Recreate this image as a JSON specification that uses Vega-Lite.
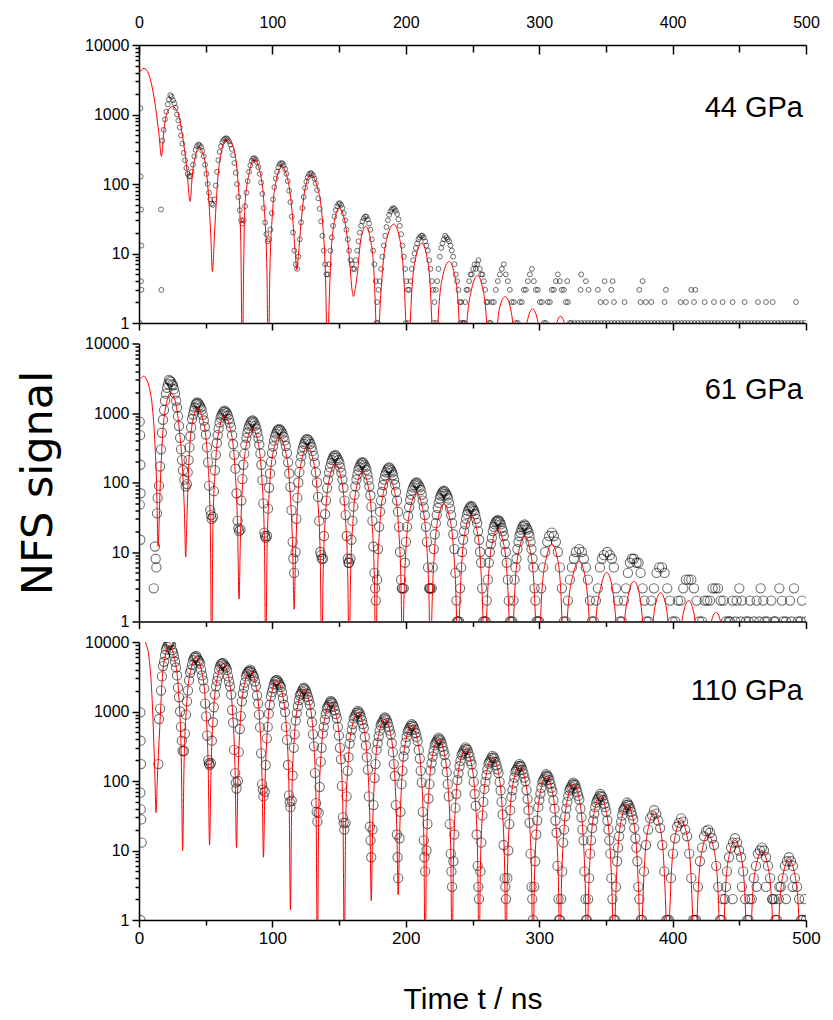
{
"$schema": "https://vega.github.io/schema/vega-lite/v6.json",
"background": "white",
"padding": {"left": 17, "top": 12, "right": 5, "bottom": 2},
"spacing": 20.5,
"bounds": "flush",
"config": {
 "view": {"stroke": null},
 "axis": {"domainColor": "#000", "domainWidth": 1.5, "tickColor": "#000", "tickWidth": 1.5, "labelColor": "#000", "labelFont": "Liberation Sans", "labelFontSize": 16, "grid": false, "labelOverlap": false, "labelFlush": false, "titleColor": "#000", "titleFontWeight": "normal"}
},
"datasets": {
"c1": [{"t":0,"v":3900},{"t":2,"v":4400},{"t":3.8,"v":4600},{"t":5.5,"v":4400},{"t":7.5,"v":3700},{"t":10,"v":2400},{"t":12.5,"v":1230},{"t":15,"v":510},{"t":16.8,"v":250},{"t":18.8,"v":630},{"t":21.3,"v":1100},{"t":25,"v":1300},{"t":28.8,"v":1100},{"t":32.5,"v":510},{"t":35.8,"v":170},{"t":38.3,"v":56},{"t":40,"v":135},{"t":42.5,"v":263},{"t":45,"v":335},{"t":48.3,"v":263},{"t":51.3,"v":108},{"t":53.8,"v":18.6},{"t":55,"v":5.5},{"t":56.8,"v":23},{"t":59.3,"v":135},{"t":61.8,"v":295},{"t":65.5,"v":445},{"t":70,"v":365},{"t":73.8,"v":135},{"t":76.3,"v":15},{"t":77.5,"v":0.2},{"t":78.4,"v":5.6},{"t":79.3,"v":47},{"t":82.8,"v":150},{"t":86.3,"v":230},{"t":90.6,"v":150},{"t":93.8,"v":47},{"t":95.9,"v":5.6},{"t":97,"v":0.2},{"t":98,"v":4.4},{"t":100,"v":37},{"t":103,"v":116},{"t":107,"v":178},{"t":111.5,"v":116},{"t":114.9,"v":37},{"t":117.2,"v":10},{"t":118.3,"v":5.8},{"t":119.4,"v":9},{"t":121.5,"v":28},{"t":124.6,"v":88},{"t":128.8,"v":135},{"t":133.8,"v":88},{"t":137.6,"v":28},{"t":140,"v":3.3},{"t":141.3,"v":0.2},{"t":142.2,"v":1.1},{"t":143.9,"v":9.3},{"t":146.5,"v":29},{"t":150,"v":45},{"t":154.3,"v":29},{"t":157.6,"v":9.3},{"t":159.7,"v":3},{"t":160.8,"v":2.4},{"t":161.7,"v":2.8},{"t":163.6,"v":5},{"t":166.3,"v":16},{"t":170,"v":24.5},{"t":173.5,"v":16},{"t":176.2,"v":5},{"t":177.9,"v":0.6},{"t":178.8,"v":0.1},{"t":179.9,"v":0.65},{"t":182.5,"v":5.5},{"t":186.1,"v":17.3},{"t":191,"v":26.5},{"t":195.1,"v":17.3},{"t":198.2,"v":5.5},{"t":200.3,"v":0.65},{"t":201.3,"v":0.1},{"t":202.4,"v":0.34},{"t":204.5,"v":2.9},{"t":207.7,"v":9.2},{"t":212,"v":14},{"t":215.7,"v":9.2},{"t":218.5,"v":2.9},{"t":220.4,"v":0.34},{"t":221.3,"v":0.1},{"t":222.4,"v":0.19},{"t":224.7,"v":1.6},{"t":228,"v":5},{"t":232.5,"v":7.7},{"t":236.5,"v":5},{"t":239.5,"v":1.6},{"t":241.5,"v":0.19},{"t":242.5,"v":0.1},{"t":243.6,"v":0.12},{"t":245.8,"v":1},{"t":249.4,"v":3.1},{"t":253.8,"v":4.8},{"t":257.7,"v":3.1},{"t":260.6,"v":1},{"t":262.5,"v":0.12},{"t":263.5,"v":0.05},{"t":267.5,"v":0.5},{"t":270,"v":1.55},{"t":274.5,"v":2.4},{"t":278.7,"v":1.55},{"t":281.8,"v":0.5},{"t":285,"v":0.05},{"t":288,"v":0.33},{"t":291,"v":1.05},{"t":295,"v":1.6},{"t":299,"v":1.05},{"t":302,"v":0.33},{"t":305.5,"v":0.05},{"t":309,"v":0.26},{"t":312,"v":0.82},{"t":316,"v":1.25},{"t":320,"v":0.82},{"t":323,"v":0.26},{"t":326.5,"v":0.05}],
"d1": [{"t":1,"v":1230},{"t":1.2,"v":128},{"t":1.5,"v":43},{"t":1.8,"v":13},{"t":1.5,"v":4},{"t":1.8,"v":3},{"t":0.5,"v":1},{"t":16.5,"v":43},{"t":16.8,"v":3},{"t":17.5,"v":420},{"t":18.5,"v":600},{"t":19.5,"v":850},{"t":20.5,"v":1100},{"t":21.5,"v":1400},{"t":22.5,"v":1650},{"t":23.5,"v":1900},{"t":24.5,"v":1800},{"t":25.5,"v":1600},{"t":26.5,"v":1450},{"t":27.5,"v":1250},{"t":28.5,"v":1000},{"t":29.5,"v":820},{"t":30.5,"v":650},{"t":31.5,"v":500},{"t":32.5,"v":380},{"t":33.5,"v":280},{"t":34.5,"v":220},{"t":35.5,"v":170},{"t":36.5,"v":140},{"t":37.5,"v":128},{"t":38.5,"v":130},{"t":39.5,"v":150},{"t":40.5,"v":190},{"t":41.5,"v":250},{"t":42.5,"v":310},{"t":43.5,"v":350},{"t":44.5,"v":370},{"t":45.5,"v":360},{"t":46.5,"v":340},{"t":47.5,"v":300},{"t":48.5,"v":250},{"t":49.5,"v":190},{"t":50.5,"v":140},{"t":51.5,"v":100},{"t":52.5,"v":75},{"t":53.5,"v":60},{"t":54.5,"v":52},{"t":55.5,"v":50},{"t":56.5,"v":60},{"t":57.5,"v":95},{"t":58.5,"v":150},{"t":59.5,"v":220},{"t":60.5,"v":290},{"t":61.5,"v":350},{"t":62.5,"v":400},{"t":63.5,"v":430},{"t":64.5,"v":450},{"t":65.5,"v":455},{"t":66.5,"v":440},{"t":67.5,"v":410},{"t":68.5,"v":370},{"t":69.5,"v":320},{"t":70.5,"v":260},{"t":71.5,"v":200},{"t":72.5,"v":145},{"t":73.5,"v":100},{"t":74.5,"v":65},{"t":75.5,"v":42},{"t":76.5,"v":30},{"t":77.5,"v":27},{"t":78.5,"v":30},{"t":79.5,"v":48},{"t":80.5,"v":75},{"t":81.5,"v":110},{"t":82.5,"v":150},{"t":83.5,"v":185},{"t":84.5,"v":215},{"t":85.5,"v":232},{"t":86.5,"v":235},{"t":87.5,"v":225},{"t":88.5,"v":205},{"t":89.5,"v":175},{"t":90.5,"v":140},{"t":91.5,"v":105},{"t":92.5,"v":72},{"t":93.5,"v":45},{"t":94.5,"v":28},{"t":95.5,"v":19},{"t":96.5,"v":15},{"t":97.5,"v":16},{"t":98.5,"v":22},{"t":99.5,"v":38},{"t":100.5,"v":60},{"t":101.5,"v":90},{"t":102.5,"v":120},{"t":103.5,"v":150},{"t":104.5,"v":175},{"t":105.5,"v":192},{"t":106.5,"v":200},{"t":107.5,"v":198},{"t":108.5,"v":185},{"t":109.5,"v":165},{"t":110.5,"v":140},{"t":111.5,"v":110},{"t":112.5,"v":80},{"t":113.5,"v":55},{"t":114.5,"v":34},{"t":115.5,"v":20},{"t":116.5,"v":11},{"t":117.5,"v":7},{"t":118.5,"v":6},{"t":119.5,"v":9},{"t":120.5,"v":16},{"t":121.5,"v":28},{"t":122.5,"v":45},{"t":123.5,"v":65},{"t":124.5,"v":88},{"t":125.5,"v":108},{"t":126.5,"v":125},{"t":127.5,"v":138},{"t":128.5,"v":143},{"t":129.5,"v":141},{"t":130.5,"v":133},{"t":131.5,"v":120},{"t":132.5,"v":102},{"t":133.5,"v":82},{"t":134.5,"v":62},{"t":135.5,"v":44},{"t":136.5,"v":29},{"t":137.5,"v":18},{"t":138.5,"v":11},{"t":139.5,"v":7},{"t":140.5,"v":5},{"t":141.5,"v":5},{"t":142.5,"v":7},{"t":143.5,"v":11},{"t":144.5,"v":17},{"t":145.5,"v":25},{"t":146.5,"v":34},{"t":147.5,"v":42},{"t":148.5,"v":48},{"t":149.5,"v":52},{"t":150.5,"v":53},{"t":151.5,"v":50},{"t":152.5,"v":45},{"t":153.5,"v":38},{"t":154.5,"v":30},{"t":155.5,"v":22},{"t":156.5,"v":16},{"t":157.5,"v":11},{"t":158.5,"v":8},{"t":159.5,"v":7},{"t":160.5,"v":6},{"t":161.5,"v":6},{"t":162.5,"v":8},{"t":163.5,"v":11},{"t":164.5,"v":15},{"t":165.5,"v":20},{"t":166.5,"v":25},{"t":167.5,"v":29},{"t":168.5,"v":32},{"t":169.5,"v":34},{"t":170.5,"v":34},{"t":171.5,"v":31},{"t":172.5,"v":27},{"t":173.5,"v":22},{"t":174.5,"v":16},{"t":175.5,"v":11},{"t":176.5,"v":7},{"t":177.5,"v":4},{"t":178.5,"v":2},{"t":179.5,"v":3},{"t":180.5,"v":4},{"t":181.5,"v":6},{"t":182.5,"v":9},{"t":183.5,"v":13},{"t":184.5,"v":18},{"t":185.5,"v":24},{"t":186.5,"v":30},{"t":187.5,"v":36},{"t":188.5,"v":40},{"t":189.5,"v":43},{"t":190.5,"v":45},{"t":191.5,"v":44},{"t":192.5,"v":41},{"t":193.5,"v":37},{"t":194.5,"v":31},{"t":195.5,"v":25},{"t":196.5,"v":19},{"t":197.5,"v":13},{"t":198.5,"v":9},{"t":199.5,"v":6},{"t":200.5,"v":4},{"t":201.5,"v":3},{"t":202.5,"v":3},{"t":203.5,"v":4},{"t":204.5,"v":6},{"t":205.5,"v":8},{"t":206.5,"v":10},{"t":207.5,"v":12},{"t":208.5,"v":14},{"t":209.5,"v":16},{"t":210.5,"v":17},{"t":211.5,"v":18},{"t":212.5,"v":18},{"t":213.5,"v":17},{"t":214.5,"v":15},{"t":215.5,"v":13},{"t":216.5,"v":11},{"t":217.5,"v":8},{"t":218.5,"v":6},{"t":219.5,"v":4},{"t":220.5,"v":3},{"t":221.5,"v":2},{"t":222.5,"v":3},{"t":223.5,"v":4},{"t":224.5,"v":6},{"t":225.5,"v":9},{"t":226.5,"v":12},{"t":227.5,"v":14},{"t":228.5,"v":16},{"t":229.5,"v":18},{"t":230.5,"v":17},{"t":231.5,"v":16},{"t":232.5,"v":15},{"t":233.5,"v":13},{"t":234.5,"v":11},{"t":235.5,"v":9},{"t":236.5,"v":7},{"t":237.5,"v":5},{"t":238.5,"v":4},{"t":239.5,"v":3},{"t":240.5,"v":2},{"t":241.5,"v":2},{"t":242.5,"v":1},{"t":243.5,"v":1},{"t":244.5,"v":2},{"t":245.5,"v":3},{"t":246.5,"v":3},{"t":247.5,"v":4},{"t":248.5,"v":5},{"t":249.5,"v":5},{"t":250.5,"v":6},{"t":251.5,"v":7},{"t":252.5,"v":6},{"t":253.5,"v":7},{"t":254.5,"v":8},{"t":255.5,"v":6},{"t":256.5,"v":5},{"t":257.5,"v":5},{"t":258.5,"v":4},{"t":259.5,"v":3},{"t":260.5,"v":2},{"t":261.5,"v":2},{"t":262.5,"v":1},{"t":263.5,"v":1},{"t":264.5,"v":2},{"t":266,"v":2},{"t":267.5,"v":3},{"t":269,"v":4},{"t":270.5,"v":5},{"t":272,"v":6},{"t":273.5,"v":7},{"t":275,"v":5},{"t":276.5,"v":4},{"t":278,"v":3},{"t":279.5,"v":2},{"t":281,"v":2},{"t":282.5,"v":1},{"t":284,"v":1},{"t":285.5,"v":2},{"t":287,"v":2},{"t":288.5,"v":3},{"t":290,"v":3},{"t":291.5,"v":4},{"t":293,"v":5},{"t":294.5,"v":6},{"t":296,"v":4},{"t":297.5,"v":3},{"t":299,"v":3},{"t":300.5,"v":2},{"t":302,"v":2},{"t":303.5,"v":1},{"t":305,"v":1},{"t":306.5,"v":2},{"t":308,"v":2},{"t":309.5,"v":3},{"t":311,"v":3},{"t":312.5,"v":4},{"t":314,"v":5},{"t":315.5,"v":4},{"t":317,"v":3},{"t":318.5,"v":3},{"t":320,"v":2},{"t":321.5,"v":2},{"t":323,"v":1},{"t":178,"v":1},{"t":179,"v":1},{"t":200,"v":1},{"t":202,"v":1},{"t":221,"v":1},{"t":223,"v":1},{"t":241,"v":1},{"t":244,"v":1},{"t":324,"v":1},{"t":326.5,"v":1},{"t":329,"v":1},{"t":331.5,"v":1},{"t":334,"v":1},{"t":336.5,"v":1},{"t":339,"v":1},{"t":341.5,"v":1},{"t":344,"v":1},{"t":346.5,"v":1},{"t":349,"v":1},{"t":351.5,"v":1},{"t":354,"v":1},{"t":356.5,"v":1},{"t":359,"v":1},{"t":361.5,"v":1},{"t":364,"v":1},{"t":366.5,"v":1},{"t":369,"v":1},{"t":371.5,"v":1},{"t":374,"v":1},{"t":376.5,"v":1},{"t":379,"v":1},{"t":381.5,"v":1},{"t":384,"v":1},{"t":386.5,"v":1},{"t":389,"v":1},{"t":391.5,"v":1},{"t":394,"v":1},{"t":396.5,"v":1},{"t":399,"v":1},{"t":401.5,"v":1},{"t":404,"v":1},{"t":406.5,"v":1},{"t":409,"v":1},{"t":411.5,"v":1},{"t":414,"v":1},{"t":416.5,"v":1},{"t":419,"v":1},{"t":421.5,"v":1},{"t":424,"v":1},{"t":426.5,"v":1},{"t":429,"v":1},{"t":431.5,"v":1},{"t":434,"v":1},{"t":436.5,"v":1},{"t":439,"v":1},{"t":441.5,"v":1},{"t":444,"v":1},{"t":446.5,"v":1},{"t":449,"v":1},{"t":451.5,"v":1},{"t":454,"v":1},{"t":456.5,"v":1},{"t":459,"v":1},{"t":461.5,"v":1},{"t":464,"v":1},{"t":466.5,"v":1},{"t":469,"v":1},{"t":471.5,"v":1},{"t":474,"v":1},{"t":476.5,"v":1},{"t":479,"v":1},{"t":481.5,"v":1},{"t":484,"v":1},{"t":486.5,"v":1},{"t":489,"v":1},{"t":491.5,"v":1},{"t":494,"v":1},{"t":496.5,"v":1},{"t":499,"v":1},{"t":346,"v":2},{"t":350,"v":2},{"t":356,"v":2},{"t":364,"v":2},{"t":376,"v":2},{"t":380,"v":2},{"t":384,"v":2},{"t":394,"v":2},{"t":406,"v":2},{"t":410,"v":2},{"t":416,"v":2},{"t":424,"v":2},{"t":431,"v":2},{"t":437.5,"v":2},{"t":445,"v":2},{"t":454,"v":2},{"t":464,"v":2},{"t":470,"v":2},{"t":475,"v":2},{"t":492.5,"v":2},{"t":331,"v":3},{"t":337,"v":3},{"t":344,"v":3},{"t":354,"v":3},{"t":375,"v":3},{"t":395,"v":3},{"t":414,"v":3},{"t":417,"v":3},{"t":321,"v":4},{"t":335,"v":4},{"t":349,"v":4},{"t":355,"v":4},{"t":377.5,"v":4},{"t":331.5,"v":5}],
"c2": [{"t":0,"v":3000},{"t":1.3,"v":3160},{"t":3.8,"v":3400},{"t":5.5,"v":3100},{"t":7.5,"v":2400},{"t":10,"v":1230},{"t":11.8,"v":410},{"t":13.3,"v":78},{"t":14.3,"v":12},{"t":15.8,"v":78},{"t":17.5,"v":410},{"t":20,"v":1230},{"t":23.8,"v":1940},{"t":27.5,"v":1380},{"t":30,"v":635},{"t":32.5,"v":168},{"t":34,"v":40},{"t":35,"v":8.5},{"t":35.9,"v":29},{"t":37.6,"v":241},{"t":40.3,"v":765},{"t":43.8,"v":1170},{"t":48.1,"v":765},{"t":51.3,"v":241},{"t":53.4,"v":29},{"t":54.5,"v":0.2},{"t":55.4,"v":22},{"t":57.4,"v":187},{"t":60.2,"v":595},{"t":64,"v":910},{"t":68.4,"v":595},{"t":71.7,"v":187},{"t":73.9,"v":22},{"t":75,"v":2.1},{"t":76,"v":15},{"t":78,"v":124},{"t":81,"v":392},{"t":85,"v":600},{"t":89,"v":392},{"t":92,"v":124},{"t":94,"v":15},{"t":95,"v":0.2},{"t":96,"v":11},{"t":98,"v":94},{"t":101,"v":298},{"t":105,"v":455},{"t":109.5,"v":298},{"t":112.9,"v":94},{"t":115.2,"v":11},{"t":116.3,"v":1.5},{"t":117.3,"v":8},{"t":119.2,"v":68},{"t":122.1,"v":216},{"t":126,"v":330},{"t":130.4,"v":216},{"t":133.7,"v":68},{"t":135.9,"v":8},{"t":137,"v":0.2},{"t":138,"v":4.5},{"t":140,"v":38},{"t":143,"v":121},{"t":147,"v":185},{"t":151.2,"v":121},{"t":154.4,"v":38},{"t":156.5,"v":4.5},{"t":157.5,"v":0.2},{"t":158.5,"v":3.5},{"t":160.5,"v":30},{"t":163.5,"v":94},{"t":167.5,"v":144},{"t":171.5,"v":94},{"t":174.5,"v":30},{"t":176.5,"v":3.5},{"t":177.5,"v":0.2},{"t":178.5,"v":2.8},{"t":180.5,"v":24},{"t":183.5,"v":75},{"t":187.5,"v":115},{"t":191.5,"v":75},{"t":194.5,"v":24},{"t":196.5,"v":2.8},{"t":197.5,"v":0.2},{"t":198.5,"v":1.7},{"t":200.5,"v":14.6},{"t":203.8,"v":46},{"t":208,"v":71},{"t":212.2,"v":46},{"t":215.4,"v":14.6},{"t":217.5,"v":1.7},{"t":218.5,"v":0.1},{"t":219.5,"v":1.2},{"t":221.5,"v":10},{"t":224.5,"v":32},{"t":228.5,"v":49},{"t":232.7,"v":32},{"t":235.9,"v":10},{"t":238,"v":1.2},{"t":239,"v":0.1},{"t":240,"v":0.83},{"t":242,"v":7},{"t":245,"v":22},{"t":249,"v":34},{"t":253,"v":22},{"t":256,"v":7},{"t":258,"v":0.83},{"t":259,"v":0.1},{"t":260,"v":0.53},{"t":262,"v":4.4},{"t":265,"v":14},{"t":269,"v":21.6},{"t":273,"v":14},{"t":276,"v":4.4},{"t":278,"v":0.53},{"t":279,"v":0.1},{"t":280,"v":0.42},{"t":282,"v":3.5},{"t":285,"v":11},{"t":289,"v":17},{"t":293,"v":11},{"t":296,"v":3.5},{"t":298,"v":0.42},{"t":299,"v":0.1},{"t":300,"v":0.32},{"t":302,"v":2.7},{"t":305.5,"v":8.5},{"t":309.5,"v":13},{"t":313.4,"v":8.5},{"t":316.2,"v":2.7},{"t":318,"v":0.32},{"t":319,"v":0.1},{"t":321.5,"v":1.5},{"t":325.5,"v":4.8},{"t":330,"v":7.3},{"t":334,"v":4.8},{"t":337,"v":1.5},{"t":340,"v":0.1},{"t":342.5,"v":1.05},{"t":346.5,"v":3.3},{"t":350.5,"v":5.1},{"t":354.5,"v":3.3},{"t":357.5,"v":1.05},{"t":361,"v":0.1},{"t":363.5,"v":0.78},{"t":367,"v":2.5},{"t":371,"v":3.8},{"t":375,"v":2.5},{"t":378,"v":0.78},{"t":381,"v":0.1},{"t":384,"v":0.54},{"t":387,"v":1.7},{"t":391,"v":2.6},{"t":395,"v":1.7},{"t":398,"v":0.54},{"t":401.5,"v":0.1},{"t":404.5,"v":0.41},{"t":408,"v":1.31},{"t":412,"v":2},{"t":416,"v":1.31},{"t":419,"v":0.41},{"t":422,"v":0.1},{"t":425,"v":0.28},{"t":428.5,"v":0.89},{"t":432.5,"v":1.36},{"t":436.5,"v":0.89},{"t":440,"v":0.28},{"t":443,"v":0.1},{"t":449,"v":0.65},{"t":453,"v":1},{"t":457,"v":0.65},{"t":463,"v":0.1}],
"d2": [{"t":0.5,"v":750},{"t":0.8,"v":480},{"t":1,"v":180},{"t":1.2,"v":70},{"t":0.6,"v":48},{"t":1,"v":15},{"t":11,"v":3},{"t":12,"v":12},{"t":12.5,"v":8},{"t":13,"v":6},{"t":13.5,"v":36},{"t":14,"v":60},{"t":15,"v":90},{"t":16.5,"v":300},{"t":18,"v":800},{"t":19.5,"v":1500},{"t":21,"v":2300},{"t":22.5,"v":3000},{"t":24,"v":2800},{"t":25.5,"v":2500},{"t":27,"v":1900},{"t":28.5,"v":1200},{"t":30,"v":650},{"t":31.5,"v":300},{"t":33,"v":150},{"t":35,"v":88},{"t":35.9,"v":95},{"t":37.2,"v":210},{"t":38.5,"v":460},{"t":39.8,"v":820},{"t":41.2,"v":1080},{"t":42.5,"v":1330},{"t":43.8,"v":1420},{"t":45.4,"v":1290},{"t":47,"v":1110},{"t":48.6,"v":780},{"t":50.2,"v":490},{"t":51.8,"v":195},{"t":53.4,"v":40},{"t":54.5,"v":30},{"t":55.5,"v":32},{"t":56.9,"v":150},{"t":58.3,"v":370},{"t":59.7,"v":600},{"t":61.2,"v":850},{"t":62.6,"v":980},{"t":64,"v":1080},{"t":65.7,"v":1000},{"t":67.3,"v":820},{"t":69,"v":620},{"t":70.6,"v":355},{"t":72.3,"v":158},{"t":73.9,"v":28},{"t":75,"v":20},{"t":76,"v":21},{"t":77.5,"v":112},{"t":79,"v":260},{"t":80.5,"v":440},{"t":82,"v":600},{"t":83.5,"v":710},{"t":85,"v":780},{"t":86.5,"v":715},{"t":88,"v":595},{"t":89.5,"v":435},{"t":91,"v":262},{"t":92.5,"v":108},{"t":94,"v":19},{"t":95,"v":16},{"t":96,"v":17},{"t":97.5,"v":84},{"t":99,"v":198},{"t":100.5,"v":332},{"t":102,"v":457},{"t":103.5,"v":543},{"t":105,"v":590},{"t":106.7,"v":545},{"t":108.4,"v":455},{"t":110.1,"v":335},{"t":111.8,"v":195},{"t":113.5,"v":86},{"t":115.2,"v":14},{"t":116.3,"v":5},{"t":117.3,"v":10},{"t":118.7,"v":60},{"t":120.2,"v":141},{"t":121.6,"v":237},{"t":123.1,"v":325},{"t":124.5,"v":387},{"t":126,"v":425},{"t":127.7,"v":390},{"t":129.3,"v":322},{"t":131,"v":240},{"t":132.6,"v":140},{"t":134.3,"v":62},{"t":135.9,"v":10},{"t":137,"v":8},{"t":138,"v":8},{"t":139.5,"v":35},{"t":141,"v":83},{"t":142.5,"v":139},{"t":144,"v":190},{"t":145.5,"v":227},{"t":147,"v":250},{"t":148.6,"v":226},{"t":150.2,"v":192},{"t":151.7,"v":138},{"t":153.3,"v":84},{"t":154.9,"v":34},{"t":156.5,"v":8},{"t":157.5,"v":7},{"t":158.5,"v":8},{"t":160,"v":28},{"t":161.5,"v":66},{"t":163,"v":110},{"t":164.5,"v":151},{"t":166,"v":180},{"t":167.5,"v":196},{"t":169,"v":178},{"t":170.5,"v":152},{"t":172,"v":109},{"t":173.5,"v":65},{"t":175,"v":28},{"t":176.5,"v":5},{"t":177.5,"v":2},{"t":178.5,"v":4},{"t":180,"v":23},{"t":181.5,"v":55},{"t":183,"v":92},{"t":184.5,"v":127},{"t":186,"v":151},{"t":187.5,"v":165},{"t":189,"v":150},{"t":190.5,"v":128},{"t":192,"v":93},{"t":193.5,"v":55},{"t":195,"v":23},{"t":196.5,"v":4},{"t":197.5,"v":3},{"t":198.5,"v":3},{"t":200.1,"v":14},{"t":201.7,"v":33},{"t":203.3,"v":56},{"t":204.8,"v":77},{"t":206.4,"v":92},{"t":208,"v":100},{"t":209.6,"v":91},{"t":211.2,"v":78},{"t":212.7,"v":55},{"t":214.3,"v":34},{"t":215.9,"v":14},{"t":217.5,"v":3},{"t":218.5,"v":3},{"t":219.5,"v":3},{"t":221,"v":11},{"t":222.5,"v":26},{"t":224,"v":43},{"t":225.5,"v":59},{"t":227,"v":70},{"t":228.5,"v":76},{"t":230.1,"v":69},{"t":231.7,"v":59},{"t":233.2,"v":42},{"t":234.8,"v":26},{"t":236.4,"v":11},{"t":238,"v":2},{"t":239,"v":1},{"t":240,"v":1},{"t":241.5,"v":6},{"t":243,"v":15},{"t":244.5,"v":25},{"t":246,"v":35},{"t":247.5,"v":42},{"t":249,"v":46},{"t":250.5,"v":41},{"t":252,"v":35},{"t":253.5,"v":26},{"t":255,"v":15},{"t":256.5,"v":7},{"t":258,"v":1},{"t":259,"v":1},{"t":260,"v":1},{"t":261.5,"v":4},{"t":263,"v":10},{"t":264.5,"v":16},{"t":266,"v":23},{"t":267.5,"v":27},{"t":269,"v":29},{"t":270.5,"v":27},{"t":272,"v":22},{"t":273.5,"v":17},{"t":275,"v":10},{"t":276.5,"v":4},{"t":278,"v":1},{"t":279,"v":1},{"t":280,"v":1},{"t":281.5,"v":4},{"t":283,"v":8},{"t":284.5,"v":14},{"t":286,"v":19},{"t":287.5,"v":23},{"t":289,"v":25},{"t":290.5,"v":22},{"t":292,"v":19},{"t":293.5,"v":14},{"t":295,"v":8},{"t":296.5,"v":3},{"t":298,"v":1},{"t":299,"v":1},{"t":300,"v":1},{"t":301.5,"v":3},{"t":303,"v":6},{"t":304.5,"v":10},{"t":306,"v":14},{"t":307.5,"v":17},{"t":309.5,"v":19},{"t":311,"v":17},{"t":312.5,"v":14},{"t":314,"v":10},{"t":315.5,"v":6},{"t":317,"v":3},{"t":318.5,"v":1},{"t":320,"v":1},{"t":321.5,"v":2},{"t":323,"v":4},{"t":324.5,"v":6},{"t":326,"v":8},{"t":327.5,"v":10},{"t":330,"v":11},{"t":332,"v":10},{"t":333.5,"v":8},{"t":335,"v":6},{"t":336.5,"v":4},{"t":338,"v":2},{"t":339.5,"v":1},{"t":341,"v":1},{"t":342.5,"v":2},{"t":344,"v":3},{"t":345.5,"v":6},{"t":347,"v":8},{"t":348.5,"v":9},{"t":351,"v":10},{"t":353,"v":9},{"t":354.5,"v":8},{"t":356,"v":6},{"t":357.5,"v":3},{"t":359,"v":2},{"t":360.5,"v":1},{"t":362,"v":1},{"t":363.5,"v":2},{"t":365,"v":3},{"t":366.5,"v":5},{"t":368,"v":7},{"t":369.5,"v":8},{"t":371,"v":8},{"t":373,"v":7},{"t":374.5,"v":7},{"t":376,"v":5},{"t":377.5,"v":3},{"t":379,"v":2},{"t":380.5,"v":1},{"t":382,"v":1},{"t":384,"v":2},{"t":386,"v":3},{"t":388,"v":5},{"t":390,"v":6},{"t":392,"v":6},{"t":394,"v":5},{"t":396,"v":3},{"t":398,"v":2},{"t":400,"v":1},{"t":402,"v":1},{"t":404,"v":2},{"t":406,"v":2},{"t":408,"v":3},{"t":410,"v":4},{"t":412,"v":4},{"t":414,"v":4},{"t":416,"v":3},{"t":418,"v":2},{"t":420,"v":1},{"t":422,"v":1},{"t":424,"v":2},{"t":426,"v":2},{"t":428,"v":2},{"t":430,"v":3},{"t":432,"v":3},{"t":434,"v":3},{"t":436,"v":2},{"t":438,"v":2},{"t":440,"v":1},{"t":442,"v":1},{"t":445,"v":2},{"t":448,"v":2},{"t":450,"v":3},{"t":452,"v":2},{"t":455,"v":1},{"t":458,"v":2},{"t":461,"v":1},{"t":463,"v":2},{"t":466,"v":3},{"t":468,"v":2},{"t":471,"v":1},{"t":474,"v":2},{"t":477,"v":1},{"t":480,"v":3},{"t":482,"v":2},{"t":485,"v":1},{"t":488,"v":2},{"t":491,"v":3},{"t":494,"v":1},{"t":497,"v":2},{"t":500,"v":1},{"t":443,"v":1},{"t":447,"v":1},{"t":451,"v":1},{"t":457,"v":1},{"t":465,"v":1},{"t":469,"v":1},{"t":476,"v":1},{"t":483,"v":1},{"t":489,"v":1},{"t":496,"v":1},
{"t":15.8,"v":170},{"t":17.2,"v":520},{"t":18.8,"v":1100},{"t":20.2,"v":1900},{"t":21.8,"v":2600},{"t":23.2,"v":2900},{"t":24.8,"v":2600},{"t":26.2,"v":2200},{"t":27.8,"v":1500},{"t":29.2,"v":900},{"t":30.8,"v":440},{"t":32.2,"v":210},{"t":34,"v":110},
{"t":36.5,"v":140},{"t":37.8,"v":320},{"t":39.1,"v":620},{"t":40.5,"v":950},{"t":41.8,"v":1200},{"t":43.1,"v":1380},{"t":44.6,"v":1360},{"t":46.2,"v":1200},{"t":47.8,"v":940},{"t":49.4,"v":630},{"t":51,"v":320},{"t":52.6,"v":90},{"t":54,"v":34},
{"t":56.2,"v":75},{"t":57.6,"v":250},{"t":59,"v":480},{"t":60.4,"v":730},{"t":61.9,"v":920},{"t":63.3,"v":1040},{"t":64.8,"v":1050},{"t":66.5,"v":920},{"t":68.1,"v":720},{"t":69.8,"v":480},{"t":71.4,"v":250},{"t":73.1,"v":70},{"t":74.5,"v":22},
{"t":76.7,"v":55},{"t":78.2,"v":180},{"t":79.7,"v":350},{"t":81.2,"v":520},{"t":82.7,"v":660},{"t":84.2,"v":750},{"t":85.7,"v":750},{"t":87.2,"v":660},{"t":88.7,"v":520},{"t":90.2,"v":350},{"t":91.7,"v":180},{"t":93.2,"v":50},{"t":94.5,"v":17},
{"t":96.7,"v":42},{"t":98.2,"v":135},{"t":99.7,"v":265},{"t":101.2,"v":400},{"t":102.7,"v":505},{"t":104.2,"v":570},{"t":105.8,"v":570},{"t":107.5,"v":505},{"t":109.2,"v":400},{"t":110.9,"v":265},{"t":112.6,"v":135},{"t":114.3,"v":40},{"t":115.7,"v":8},
{"t":118,"v":30},{"t":119.4,"v":100},{"t":120.9,"v":190},{"t":122.3,"v":285},{"t":123.8,"v":360},{"t":125.2,"v":410},{"t":126.8,"v":410},{"t":128.5,"v":360},{"t":130.1,"v":285},{"t":131.8,"v":190},{"t":133.4,"v":100},{"t":135.1,"v":28},{"t":136.5,"v":9},
{"t":138.7,"v":17},{"t":140.2,"v":55},{"t":141.7,"v":110},{"t":143.2,"v":165},{"t":144.7,"v":210},{"t":146.2,"v":240},{"t":147.8,"v":240},{"t":149.4,"v":210},{"t":150.9,"v":165},{"t":152.5,"v":110},{"t":154.1,"v":55},{"t":155.7,"v":17},{"t":157,"v":7},
{"t":159.2,"v":15},{"t":160.7,"v":45},{"t":162.2,"v":88},{"t":163.7,"v":130},{"t":165.2,"v":166},{"t":166.7,"v":190},{"t":168.2,"v":190},{"t":169.7,"v":166},{"t":171.2,"v":130},{"t":172.7,"v":88},{"t":174.2,"v":45},{"t":175.7,"v":12},{"t":177,"v":3},
{"t":179.2,"v":11},{"t":180.7,"v":38},{"t":182.2,"v":73},{"t":183.7,"v":110},{"t":185.2,"v":140},{"t":186.7,"v":160},{"t":188.2,"v":160},{"t":189.7,"v":140},{"t":191.2,"v":110},{"t":192.7,"v":73},{"t":194.2,"v":38},{"t":195.7,"v":10},{"t":197,"v":3},
{"t":199.3,"v":7},{"t":200.9,"v":23},{"t":202.5,"v":44},{"t":204,"v":67},{"t":205.6,"v":85},{"t":207.2,"v":97},{"t":208.8,"v":97},{"t":210.4,"v":85},{"t":212,"v":67},{"t":213.5,"v":44},{"t":215.1,"v":23},{"t":216.7,"v":6},{"t":218,"v":3},
{"t":220.2,"v":6},{"t":221.7,"v":18},{"t":223.2,"v":34},{"t":224.7,"v":51},{"t":226.2,"v":65},{"t":227.7,"v":74},{"t":229.3,"v":74},{"t":230.9,"v":65},{"t":232.4,"v":51},{"t":234,"v":34},{"t":235.6,"v":18},{"t":237.2,"v":5},{"t":238.5,"v":1},
{"t":240.7,"v":3},{"t":242.2,"v":10},{"t":243.7,"v":20},{"t":245.2,"v":30},{"t":246.7,"v":39},{"t":248.2,"v":44},{"t":249.7,"v":44},{"t":251.2,"v":39},{"t":252.7,"v":30},{"t":254.2,"v":20},{"t":255.7,"v":10},{"t":257.2,"v":3},
{"t":260.7,"v":2},{"t":262.2,"v":7},{"t":263.7,"v":13},{"t":265.2,"v":20},{"t":266.7,"v":25},{"t":268.2,"v":28},{"t":269.7,"v":28},{"t":271.2,"v":25},{"t":272.7,"v":20},{"t":274.2,"v":13},{"t":275.7,"v":7},{"t":277.2,"v":2},
{"t":280.7,"v":2},{"t":282.2,"v":6},{"t":283.7,"v":11},{"t":285.2,"v":17},{"t":286.7,"v":21},{"t":288.2,"v":24},{"t":289.7,"v":24},{"t":291.2,"v":21},{"t":292.7,"v":17},{"t":294.2,"v":11},{"t":295.7,"v":6},{"t":297.2,"v":2}],
"c3": [{"t":0,"v":50000},{"t":2,"v":30000},{"t":4.5,"v":11000},{"t":7.5,"v":6000},{"t":10,"v":1290},{"t":11.8,"v":140},{"t":12.8,"v":35},{"t":13.8,"v":112},{"t":15.8,"v":740},{"t":17.5,"v":3100},{"t":20,"v":6700},{"t":22.6,"v":8900},{"t":26.6,"v":5820},{"t":29.7,"v":1830},{"t":31.7,"v":218},{"t":32.7,"v":10},{"t":33.7,"v":147},{"t":35.7,"v":1240},{"t":38.8,"v":3920},{"t":42.8,"v":6000},{"t":46.8,"v":3920},{"t":49.9,"v":1240},{"t":51.9,"v":147},{"t":52.9,"v":12},{"t":53.9,"v":120},{"t":55.9,"v":1010},{"t":59,"v":3200},{"t":63,"v":4900},{"t":67,"v":3200},{"t":70.1,"v":1010},{"t":72.1,"v":120},{"t":73.1,"v":11},{"t":74.1,"v":96},{"t":76.1,"v":803},{"t":79.2,"v":2550},{"t":83.2,"v":3900},{"t":87.2,"v":2550},{"t":90.3,"v":803},{"t":92.3,"v":96},{"t":93.3,"v":8},{"t":94.3,"v":68},{"t":96.3,"v":569},{"t":99.4,"v":1805},{"t":103.4,"v":2760},{"t":107.4,"v":1805},{"t":110.5,"v":569},{"t":112.5,"v":68},{"t":113.5,"v":1.4},{"t":114.5,"v":51},{"t":116.5,"v":433},{"t":119.6,"v":1373},{"t":123.6,"v":2100},{"t":127.6,"v":1373},{"t":130.7,"v":433},{"t":132.7,"v":51},{"t":133.7,"v":0.2},{"t":134.7,"v":33},{"t":136.7,"v":278},{"t":139.8,"v":883},{"t":143.8,"v":1350},{"t":147.8,"v":883},{"t":150.9,"v":278},{"t":152.9,"v":33},{"t":153.9,"v":0.2},{"t":154.9,"v":24},{"t":156.9,"v":200},{"t":160,"v":634},{"t":164,"v":970},{"t":168,"v":634},{"t":171.1,"v":200},{"t":173.1,"v":24},{"t":174.1,"v":1.9},{"t":175.1,"v":19},{"t":177.1,"v":161},{"t":180.2,"v":510},{"t":184.2,"v":780},{"t":188.2,"v":510},{"t":191.3,"v":161},{"t":193.3,"v":19},{"t":194.3,"v":2.3},{"t":195.3,"v":15},{"t":197.3,"v":130},{"t":200.4,"v":412},{"t":204.4,"v":630},{"t":208.4,"v":412},{"t":211.5,"v":130},{"t":213.5,"v":15},{"t":214.5,"v":0.2},{"t":215.5,"v":9.8},{"t":217.5,"v":82},{"t":220.6,"v":262},{"t":224.6,"v":400},{"t":228.6,"v":262},{"t":231.7,"v":82},{"t":233.7,"v":9.8},{"t":234.7,"v":0.2},{"t":235.7,"v":7.1},{"t":237.7,"v":60},{"t":240.8,"v":190},{"t":244.8,"v":290},{"t":248.8,"v":190},{"t":251.9,"v":60},{"t":253.9,"v":7.1},{"t":254.9,"v":0.2},{"t":255.9,"v":5.3},{"t":257.9,"v":45},{"t":261,"v":143},{"t":265,"v":218},{"t":269,"v":143},{"t":272.1,"v":45},{"t":274.1,"v":5.3},{"t":275.1,"v":0.2},{"t":276.1,"v":4.1},{"t":278.1,"v":34},{"t":281.2,"v":109},{"t":285.2,"v":166},{"t":289.2,"v":109},{"t":292.3,"v":34},{"t":294.3,"v":4.1},{"t":295.3,"v":0.2},{"t":296.3,"v":2.9},{"t":298.3,"v":24},{"t":301.4,"v":77},{"t":305.4,"v":118},{"t":309.4,"v":77},{"t":312.5,"v":24},{"t":314.5,"v":2.9},{"t":315.5,"v":0.2},{"t":316.5,"v":2.2},{"t":318.5,"v":18.5},{"t":321.6,"v":59},{"t":325.6,"v":90},{"t":329.6,"v":59},{"t":332.7,"v":18.5},{"t":334.7,"v":2.2},{"t":335.7,"v":0.2},{"t":336.7,"v":1.5},{"t":338.7,"v":12.6},{"t":341.8,"v":40},{"t":345.8,"v":61},{"t":349.8,"v":40},{"t":352.9,"v":12.6},{"t":354.9,"v":1.5},{"t":355.9,"v":0.2},{"t":356.9,"v":1.1},{"t":358.9,"v":9.5},{"t":362,"v":30},{"t":366,"v":46},{"t":370,"v":30},{"t":373.1,"v":9.5},{"t":375.1,"v":1.1},{"t":376.1,"v":0.2},{"t":377.1,"v":0.86},{"t":379.1,"v":7.2},{"t":382.2,"v":23},{"t":386.2,"v":35},{"t":390.2,"v":23},{"t":393.3,"v":7.2},{"t":395.3,"v":0.86},{"t":396.3,"v":0.2},{"t":397.3,"v":0.66},{"t":399.3,"v":5.6},{"t":402.4,"v":17.7},{"t":406.4,"v":27},{"t":410.4,"v":17.7},{"t":413.5,"v":5.6},{"t":415.5,"v":0.66},{"t":416.5,"v":0.2},{"t":417.5,"v":0.42},{"t":419.5,"v":3.5},{"t":422.6,"v":11.1},{"t":426.6,"v":17},{"t":430.6,"v":11.1},{"t":433.7,"v":3.5},{"t":435.7,"v":0.42},{"t":436.7,"v":0.2},{"t":437.7,"v":0.34},{"t":439.7,"v":2.9},{"t":442.8,"v":9.2},{"t":446.8,"v":14},{"t":450.8,"v":9.2},{"t":453.9,"v":2.9},{"t":455.9,"v":0.34},{"t":456.9,"v":0.2},{"t":457.9,"v":0.25},{"t":459.9,"v":2.1},{"t":463,"v":6.5},{"t":467,"v":10},{"t":471,"v":6.5},{"t":474.1,"v":2.1},{"t":476.1,"v":0.25},{"t":477.1,"v":0.1},{"t":478.1,"v":0.18},{"t":480.1,"v":1.5},{"t":483.2,"v":4.9},{"t":487.2,"v":7.5},{"t":491.2,"v":4.9},{"t":494.3,"v":1.5},{"t":496.3,"v":0.18},{"t":497.3,"v":0.1},{"t":500,"v":0.3}],
"d3": [{"t":1,"v":970},{"t":1.2,"v":380},{"t":1.5,"v":175},{"t":1,"v":68},{"t":1.3,"v":39},{"t":1.6,"v":28},{"t":2,"v":13},{"t":1,"v":1},{"t":14.5,"v":175},{"t":15,"v":780},{"t":16.5,"v":2000},{"t":18,"v":4500},{"t":19.5,"v":6500},{"t":21,"v":8500},{"t":22.5,"v":9500},{"t":24,"v":9000},{"t":25.5,"v":7000},{"t":27,"v":5200},{"t":28.5,"v":3300},{"t":30,"v":1600},{"t":31.5,"v":600},{"t":32.7,"v":270},{"t":33.7,"v":270},{"t":35.2,"v":900},{"t":36.7,"v":2000},{"t":38.3,"v":3600},{"t":39.8,"v":4700},{"t":41.3,"v":5900},{"t":42.8,"v":6300},{"t":44.3,"v":5500},{"t":45.8,"v":4900},{"t":47.3,"v":3300},{"t":48.9,"v":2150},{"t":50.4,"v":850},{"t":51.9,"v":200},{"t":52.9,"v":170},{"t":53.9,"v":180},{"t":55.4,"v":700},{"t":56.9,"v":1750},{"t":58.5,"v":2750},{"t":60,"v":4000},{"t":61.5,"v":4800},{"t":63,"v":5000},{"t":64.5,"v":4500},{"t":66,"v":3950},{"t":67.5,"v":2700},{"t":69.1,"v":1750},{"t":70.6,"v":690},{"t":72.1,"v":130},{"t":73.1,"v":78},{"t":74.1,"v":100},{"t":75.6,"v":560},{"t":77.1,"v":1400},{"t":78.7,"v":2200},{"t":80.2,"v":3200},{"t":81.7,"v":3700},{"t":83.2,"v":4000},{"t":84.7,"v":3600},{"t":86.2,"v":3150},{"t":87.7,"v":2300},{"t":89.3,"v":1300},{"t":90.8,"v":590},{"t":92.3,"v":90},{"t":93.3,"v":60},{"t":94.3,"v":70},{"t":95.8,"v":410},{"t":97.3,"v":930},{"t":98.9,"v":1650},{"t":100.4,"v":2150},{"t":101.9,"v":2700},{"t":103.4,"v":2850},{"t":104.9,"v":2550},{"t":106.4,"v":2250},{"t":107.9,"v":1550},{"t":109.5,"v":980},{"t":111,"v":390},{"t":112.5,"v":62},{"t":113.5,"v":42},{"t":114.5,"v":52},{"t":116,"v":300},{"t":117.5,"v":740},{"t":119.1,"v":1190},{"t":120.6,"v":1700},{"t":122.1,"v":1950},{"t":123.6,"v":2200},{"t":125.1,"v":2000},{"t":126.6,"v":1620},{"t":128.1,"v":1250},{"t":129.7,"v":700},{"t":131.2,"v":315},{"t":132.7,"v":48},{"t":133.7,"v":26},{"t":134.7,"v":35},{"t":136.2,"v":190},{"t":137.7,"v":480},{"t":139.3,"v":760},{"t":140.8,"v":1100},{"t":142.3,"v":1250},{"t":143.8,"v":1420},{"t":145.3,"v":1300},{"t":146.8,"v":1040},{"t":148.3,"v":800},{"t":149.9,"v":450},{"t":151.4,"v":205},{"t":152.9,"v":30},{"t":153.9,"v":20},{"t":154.9,"v":25},{"t":156.4,"v":140},{"t":157.9,"v":345},{"t":159.5,"v":545},{"t":161,"v":790},{"t":162.5,"v":900},{"t":164,"v":1020},{"t":165.5,"v":930},{"t":167,"v":750},{"t":168.5,"v":575},{"t":170.1,"v":325},{"t":171.6,"v":146},{"t":173.1,"v":22},{"t":174.1,"v":8},{"t":175.1,"v":20},{"t":176.6,"v":110},{"t":178.1,"v":280},{"t":179.7,"v":440},{"t":181.2,"v":630},{"t":182.7,"v":720},{"t":184.2,"v":820},{"t":185.7,"v":750},{"t":187.2,"v":600},{"t":188.7,"v":465},{"t":190.3,"v":260},{"t":191.8,"v":118},{"t":193.3,"v":17},{"t":194.3,"v":4},{"t":195.3,"v":15},{"t":196.8,"v":90},{"t":198.3,"v":225},{"t":199.9,"v":355},{"t":201.4,"v":510},{"t":202.9,"v":580},{"t":204.4,"v":660},{"t":205.9,"v":600},{"t":207.4,"v":490},{"t":208.9,"v":375},{"t":210.5,"v":210},{"t":212,"v":95},{"t":213.5,"v":14},{"t":214.5,"v":5},{"t":215.5,"v":10},{"t":217,"v":56},{"t":218.5,"v":142},{"t":220.1,"v":225},{"t":221.6,"v":325},{"t":223.1,"v":370},{"t":224.6,"v":420},{"t":226.1,"v":385},{"t":227.6,"v":310},{"t":229.1,"v":238},{"t":230.7,"v":134},{"t":232.2,"v":60},{"t":233.7,"v":9},{"t":234.7,"v":3},{"t":235.7,"v":7},{"t":237.2,"v":41},{"t":238.7,"v":103},{"t":240.3,"v":163},{"t":241.8,"v":236},{"t":243.3,"v":268},{"t":244.8,"v":305},{"t":246.3,"v":280},{"t":247.8,"v":224},{"t":249.3,"v":173},{"t":250.9,"v":97},{"t":252.4,"v":44},{"t":253.9,"v":6},{"t":254.9,"v":2},{"t":255.9,"v":5},{"t":257.4,"v":32},{"t":258.9,"v":77},{"t":260.5,"v":122},{"t":262,"v":178},{"t":263.5,"v":200},{"t":265,"v":230},{"t":266.5,"v":210},{"t":268,"v":168},{"t":269.5,"v":130},{"t":271.1,"v":73},{"t":272.6,"v":33},{"t":274.1,"v":4},{"t":275.1,"v":2},{"t":276.1,"v":4},{"t":277.6,"v":24},{"t":279.1,"v":59},{"t":280.7,"v":93},{"t":282.2,"v":136},{"t":283.7,"v":153},{"t":285.2,"v":175},{"t":286.7,"v":160},{"t":288.2,"v":128},{"t":289.7,"v":99},{"t":291.3,"v":55},{"t":292.8,"v":25},{"t":294.3,"v":3},{"t":295.3,"v":1},{"t":296.3,"v":3},{"t":297.8,"v":17},{"t":299.3,"v":42},{"t":300.9,"v":66},{"t":302.4,"v":97},{"t":303.9,"v":109},{"t":305.4,"v":125},{"t":306.9,"v":114},{"t":308.4,"v":91},{"t":309.9,"v":70},{"t":311.5,"v":40},{"t":313,"v":18},{"t":314.5,"v":2},{"t":315.5,"v":1},{"t":316.5,"v":2},{"t":318,"v":13},{"t":319.5,"v":31},{"t":321.1,"v":50},{"t":322.6,"v":73},{"t":324.1,"v":83},{"t":325.6,"v":95},{"t":327.1,"v":87},{"t":328.6,"v":69},{"t":330.1,"v":54},{"t":331.7,"v":30},{"t":333.2,"v":14},{"t":334.7,"v":2},{"t":335.7,"v":1},{"t":336.7,"v":2},{"t":338.2,"v":9},{"t":339.7,"v":21},{"t":341.3,"v":34},{"t":342.8,"v":49},{"t":344.3,"v":56},{"t":345.8,"v":65},{"t":347.3,"v":59},{"t":348.8,"v":47},{"t":350.3,"v":36},{"t":351.9,"v":20},{"t":353.4,"v":9},{"t":354.9,"v":2},{"t":355.9,"v":1},{"t":356.9,"v":1},{"t":358.4,"v":7},{"t":359.9,"v":16},{"t":361.5,"v":26},{"t":363,"v":38},{"t":364.5,"v":42},{"t":366,"v":49},{"t":367.5,"v":44},{"t":369,"v":36},{"t":370.5,"v":28},{"t":372.1,"v":15},{"t":373.6,"v":7},{"t":375.1,"v":2},{"t":376.1,"v":1},{"t":377.1,"v":1},{"t":378.6,"v":5},{"t":380.1,"v":12},{"t":381.7,"v":20},{"t":383.2,"v":29},{"t":384.7,"v":32},{"t":386.2,"v":38},{"t":387.7,"v":34},{"t":389.2,"v":27},{"t":390.7,"v":21},{"t":392.3,"v":12},{"t":393.8,"v":5},{"t":395.3,"v":1},{"t":396.3,"v":1},{"t":397.3,"v":1},{"t":398.8,"v":4},{"t":400.3,"v":9},{"t":401.9,"v":15},{"t":403.4,"v":22},{"t":404.9,"v":25},{"t":406.4,"v":29},{"t":407.9,"v":26},{"t":409.4,"v":20},{"t":410.9,"v":16},{"t":412.5,"v":9},{"t":414,"v":4},{"t":415.5,"v":1},{"t":416.5,"v":1},{"t":417.5,"v":1},{"t":419,"v":3},{"t":420.5,"v":7},{"t":422.1,"v":11},{"t":423.6,"v":16},{"t":425.1,"v":19},{"t":426.6,"v":20},{"t":428.1,"v":18},{"t":429.6,"v":15},{"t":431.1,"v":12},{"t":432.7,"v":6},{"t":434.2,"v":3},{"t":435.7,"v":1},{"t":436.7,"v":1},{"t":437.7,"v":2},{"t":439.2,"v":2},{"t":440.7,"v":5},{"t":442.3,"v":8},{"t":443.8,"v":11},{"t":445.3,"v":13},{"t":446.8,"v":15},{"t":448.3,"v":13},{"t":449.8,"v":10},{"t":451.3,"v":8},{"t":452.9,"v":5},{"t":454.4,"v":2},{"t":455.9,"v":1},{"t":456.9,"v":1},{"t":457.9,"v":2},{"t":459.4,"v":2},{"t":460.9,"v":4},{"t":462.5,"v":6},{"t":464,"v":9},{"t":465.5,"v":10},{"t":467,"v":11},{"t":468.5,"v":10},{"t":470,"v":8},{"t":471.5,"v":6},{"t":473.1,"v":4},{"t":474.6,"v":2},{"t":476.1,"v":2},{"t":477.1,"v":1},{"t":478.1,"v":1},{"t":479.6,"v":2},{"t":481.1,"v":3},{"t":482.7,"v":4},{"t":484.2,"v":6},{"t":485.7,"v":7},{"t":487.2,"v":8},{"t":488.7,"v":7},{"t":490.2,"v":6},{"t":491.7,"v":4},{"t":493.3,"v":3},{"t":494.8,"v":2},{"t":496.3,"v":1},{"t":497.3,"v":1},{"t":499,"v":2},{"t":440,"v":3},{"t":452,"v":3},{"t":463,"v":3},{"t":470,"v":3},{"t":480,"v":3},{"t":485,"v":2},{"t":490,"v":3},{"t":445,"v":2},{"t":475,"v":2},{"t":500,"v":1},
{"t":15.8,"v":1100},{"t":17.2,"v":3200},{"t":18.8,"v":5200},{"t":20.2,"v":7800},{"t":21.8,"v":9200},{"t":23.2,"v":9800},{"t":24.8,"v":7600},{"t":26.2,"v":6200},{"t":27.8,"v":4300},{"t":29.2,"v":2200},{"t":30.8,"v":1000},{"t":32.1,"v":380},
{"t":34.4,"v":480},{"t":36,"v":1400},{"t":37.5,"v":2800},{"t":39,"v":4000},{"t":40.5,"v":5500},{"t":42,"v":6100},{"t":43.5,"v":5900},{"t":45,"v":5300},{"t":46.5,"v":4000},{"t":48.1,"v":2800},{"t":49.6,"v":1300},{"t":51.1,"v":450},{"t":52.4,"v":180},
{"t":54.6,"v":380},{"t":56.1,"v":1150},{"t":57.7,"v":2300},{"t":59.2,"v":3200},{"t":60.7,"v":4500},{"t":62.2,"v":4900},{"t":63.7,"v":4700},{"t":65.2,"v":4300},{"t":66.7,"v":3200},{"t":68.3,"v":2300},{"t":69.8,"v":1050},{"t":71.3,"v":280},{"t":72.6,"v":95},
{"t":74.8,"v":260},{"t":76.3,"v":860},{"t":77.9,"v":1800},{"t":79.4,"v":2600},{"t":80.9,"v":3500},{"t":82.4,"v":3800},{"t":83.9,"v":3800},{"t":85.4,"v":3300},{"t":86.9,"v":2700},{"t":88.5,"v":1700},{"t":90,"v":900},{"t":91.5,"v":250},{"t":92.8,"v":75},
{"t":95,"v":170},{"t":96.5,"v":600},{"t":98.1,"v":1250},{"t":99.6,"v":1900},{"t":101.1,"v":2450},{"t":102.6,"v":2800},{"t":104.1,"v":2700},{"t":105.6,"v":2400},{"t":107.1,"v":1900},{"t":108.7,"v":1250},{"t":110.2,"v":600},{"t":111.7,"v":170},{"t":113,"v":50},
{"t":115.2,"v":120},{"t":116.7,"v":470},{"t":118.3,"v":950},{"t":119.8,"v":1450},{"t":121.3,"v":1800},{"t":122.8,"v":2100},{"t":124.3,"v":2100},{"t":125.8,"v":1800},{"t":127.3,"v":1450},{"t":128.9,"v":950},{"t":130.4,"v":470},{"t":131.9,"v":130},{"t":133.2,"v":36},
{"t":135.4,"v":82},{"t":136.9,"v":300},{"t":138.5,"v":600},{"t":140,"v":920},{"t":141.5,"v":1170},{"t":143,"v":1350},{"t":144.5,"v":1360},{"t":146,"v":1170},{"t":147.5,"v":920},{"t":149.1,"v":600},{"t":150.6,"v":300},{"t":152.1,"v":85},{"t":153.4,"v":25},
{"t":155.6,"v":60},{"t":157.1,"v":220},{"t":158.7,"v":430},{"t":160.2,"v":660},{"t":161.7,"v":850},{"t":163.2,"v":960},{"t":164.7,"v":980},{"t":166.2,"v":840},{"t":167.7,"v":660},{"t":169.3,"v":430},{"t":170.8,"v":220},{"t":172.3,"v":60},{"t":173.6,"v":14},
{"t":175.8,"v":45},{"t":177.3,"v":175},{"t":178.9,"v":350},{"t":180.4,"v":530},{"t":181.9,"v":680},{"t":183.4,"v":770},{"t":184.9,"v":790},{"t":186.4,"v":680},{"t":187.9,"v":530},{"t":189.5,"v":350},{"t":191,"v":175},{"t":192.5,"v":45},{"t":193.8,"v":8},
{"t":196,"v":36},{"t":197.5,"v":140},{"t":199.1,"v":280},{"t":200.6,"v":430},{"t":202.1,"v":545},{"t":203.6,"v":620},{"t":205.1,"v":630},{"t":206.6,"v":545},{"t":208.1,"v":430},{"t":209.7,"v":280},{"t":211.2,"v":140},{"t":212.7,"v":36},{"t":214,"v":8},
{"t":216.2,"v":24},{"t":217.7,"v":90},{"t":219.3,"v":180},{"t":220.8,"v":270},{"t":222.3,"v":350},{"t":223.8,"v":395},{"t":225.3,"v":400},{"t":226.8,"v":350},{"t":228.3,"v":270},{"t":229.9,"v":180},{"t":231.4,"v":90},{"t":232.9,"v":24},{"t":234.2,"v":5},
{"t":236.4,"v":17},{"t":237.9,"v":65},{"t":239.5,"v":130},{"t":241,"v":195},{"t":242.5,"v":250},{"t":244,"v":285},{"t":245.5,"v":290},{"t":247,"v":250},{"t":248.5,"v":195},{"t":250.1,"v":130},{"t":251.6,"v":65},{"t":253.1,"v":17},{"t":254.4,"v":3},
{"t":256.6,"v":13},{"t":258.1,"v":50},{"t":259.7,"v":97},{"t":261.2,"v":147},{"t":262.7,"v":188},{"t":264.2,"v":215},{"t":265.7,"v":218},{"t":267.2,"v":188},{"t":268.7,"v":147},{"t":270.3,"v":97},{"t":271.8,"v":50},{"t":273.3,"v":12},{"t":274.6,"v":3},
{"t":276.8,"v":10},{"t":278.3,"v":38},{"t":279.9,"v":74},{"t":281.4,"v":112},{"t":282.9,"v":144},{"t":284.4,"v":163},{"t":285.9,"v":166},{"t":287.4,"v":144},{"t":288.9,"v":112},{"t":290.5,"v":74},{"t":292,"v":38},{"t":293.5,"v":9},{"t":294.8,"v":2},
{"t":297,"v":7},{"t":298.5,"v":27},{"t":300.1,"v":53},{"t":301.6,"v":80},{"t":303.1,"v":103},{"t":304.6,"v":116},{"t":306.1,"v":118},{"t":307.6,"v":103},{"t":309.1,"v":80},{"t":310.7,"v":53},{"t":312.2,"v":27},{"t":313.7,"v":6},{"t":315,"v":1},
{"t":317.2,"v":5},{"t":318.7,"v":20},{"t":320.3,"v":40},{"t":321.8,"v":61},{"t":323.3,"v":78},{"t":324.8,"v":89},{"t":326.3,"v":90},{"t":327.8,"v":78},{"t":329.3,"v":61},{"t":330.9,"v":40},{"t":332.4,"v":20},{"t":333.9,"v":5},{"t":335.2,"v":1},
{"t":337.4,"v":4},{"t":338.9,"v":14},{"t":340.5,"v":27},{"t":342,"v":42},{"t":343.5,"v":53},{"t":345,"v":60},{"t":346.5,"v":61},{"t":348,"v":53},{"t":349.5,"v":42},{"t":351.1,"v":27},{"t":352.6,"v":14},{"t":354.1,"v":4},
{"t":357.6,"v":3},{"t":359.1,"v":11},{"t":360.7,"v":21},{"t":362.2,"v":32},{"t":363.7,"v":40},{"t":365.2,"v":45},{"t":366.7,"v":46},{"t":368.2,"v":40},{"t":369.7,"v":32},{"t":371.3,"v":21},{"t":372.8,"v":11},{"t":374.3,"v":3}]
},
"vconcat": [
{
 "width": 667, "height": 278,
 "resolve": {"axis": {"x": "independent"}},
 "layer": [
  {"data": {"name": "d1"},
   "mark": {"type": "point", "shape": "circle", "filled": false, "stroke": "#000", "strokeWidth": 1, "strokeOpacity": 0.8, "size": 24, "clip": true},
   "encoding": {
    "x": {"field": "t", "type": "quantitative", "scale": {"domain": [0, 500], "nice": false, "zero": false},
          "axis": {"orient": "top", "title": null, "values": [0,50,100,150,200,250,300,350,400,450,500], "labelExpr": "datum.value % 100 == 0 ? datum.label : ''", "tickSize": {"condition": {"test": "datum.value % 100 == 0", "value": -9}, "value": -7}, "labelPadding": 24}},
    "y": {"field": "v", "type": "quantitative", "scale": {"type": "log", "domain": [1, 10000], "nice": false},
          "axis": {"title": null, "values": [1,2,3,4,5,6,7,8,9,10,20,30,40,50,60,70,80,90,100,200,300,400,500,600,700,800,900,1000,2000,3000,4000,5000,6000,7000,8000,9000,10000], "labelExpr": "indexof([1,10,100,1000,10000], datum.value) >= 0 ? format(datum.value, 'd') : ''", "tickSize": {"condition": {"test": "indexof([1,10,100,1000,10000], datum.value) >= 0", "value": 7}, "value": 4}, "labelPadding": 3}}
   }},
  {"data": {"name": "c1"},
   "mark": {"type": "line", "color": "#ff0000", "strokeWidth": 1, "clip": true, "interpolate": "monotone"},
   "encoding": {
    "x": {"field": "t", "type": "quantitative", "axis": {"orient": "bottom", "title": null, "values": [0,50,100,150,200,250,300,350,400,450,500], "labels": false, "tickSize": {"condition": {"test": "datum.value % 100 == 0", "value": 7}, "value": 5}}},
    "y": {"field": "v", "type": "quantitative"}
   }},
  {"data": {"values": [{"label": "44 GPa"}]},
   "mark": {"type": "text", "align": "right", "baseline": "alphabetic", "dx": -3, "font": "Liberation Sans", "fontSize": 29, "color": "#000"},
   "encoding": {
    "text": {"field": "label"},
    "x": {"datum": 500, "type": "quantitative", "axis": null},
    "y": {"datum": 933, "type": "quantitative"}
   }}
 ]
},
{
 "width": 667, "height": 278,
 "layer": [
  {"data": {"name": "d2"},
   "mark": {"type": "point", "shape": "circle", "filled": false, "stroke": "#000", "strokeWidth": 1.1, "strokeOpacity": 0.8, "size": 85, "clip": true},
   "encoding": {
    "x": {"field": "t", "type": "quantitative", "scale": {"domain": [0, 500], "nice": false, "zero": false},
          "axis": {"orient": "bottom", "title": null, "values": [0,50,100,150,200,250,300,350,400,450,500], "labels": false, "tickSize": {"condition": {"test": "datum.value % 100 == 0", "value": 7}, "value": 5}}},
    "y": {"field": "v", "type": "quantitative", "scale": {"type": "log", "domain": [1, 10000], "nice": false},
          "axis": {"title": "NFS signal", "titleFont": "DejaVu Sans", "titleFontSize": 43, "titlePadding": 24, "values": [1,2,3,4,5,6,7,8,9,10,20,30,40,50,60,70,80,90,100,200,300,400,500,600,700,800,900,1000,2000,3000,4000,5000,6000,7000,8000,9000,10000], "labelExpr": "indexof([1,10,100,1000,10000], datum.value) >= 0 ? format(datum.value, 'd') : ''", "tickSize": {"condition": {"test": "indexof([1,10,100,1000,10000], datum.value) >= 0", "value": 7}, "value": 4}, "labelPadding": 3}}
   }},
  {"data": {"name": "c2"},
   "mark": {"type": "line", "color": "#ff0000", "strokeWidth": 1, "clip": true, "interpolate": "monotone"},
   "encoding": {
    "x": {"field": "t", "type": "quantitative"},
    "y": {"field": "v", "type": "quantitative"}
   }},
  {"data": {"values": [{"label": "61 GPa"}]},
   "mark": {"type": "text", "align": "right", "baseline": "alphabetic", "dx": -3, "font": "Liberation Sans", "fontSize": 29, "color": "#000"},
   "encoding": {
    "text": {"field": "label"},
    "x": {"datum": 500, "type": "quantitative"},
    "y": {"datum": 1590, "type": "quantitative"}
   }}
 ]
},
{
 "width": 667, "height": 278,
 "layer": [
  {"data": {"name": "d3"},
   "mark": {"type": "point", "shape": "circle", "filled": false, "stroke": "#000", "strokeWidth": 1.1, "strokeOpacity": 0.8, "size": 85, "clip": true},
   "encoding": {
    "x": {"field": "t", "type": "quantitative", "scale": {"domain": [0, 500], "nice": false, "zero": false},
          "axis": {"orient": "bottom", "title": "Time t / ns", "titleFont": "Liberation Sans", "titleFontSize": 30, "titlePadding": 38, "values": [0,50,100,150,200,250,300,350,400,450,500], "labelExpr": "datum.value % 100 == 0 ? datum.label : ''", "labelPadding": 3, "labelFontSize": 17, "tickSize": {"condition": {"test": "datum.value % 100 == 0", "value": 7}, "value": 5}}},
    "y": {"field": "v", "type": "quantitative", "scale": {"type": "log", "domain": [1, 10000], "nice": false},
          "axis": {"title": null, "values": [1,2,3,4,5,6,7,8,9,10,20,30,40,50,60,70,80,90,100,200,300,400,500,600,700,800,900,1000,2000,3000,4000,5000,6000,7000,8000,9000,10000], "labelExpr": "indexof([1,10,100,1000,10000], datum.value) >= 0 ? format(datum.value, 'd') : ''", "labelFontSize": 16, "tickSize": {"condition": {"test": "indexof([1,10,100,1000,10000], datum.value) >= 0", "value": 7}, "value": 4}, "labelPadding": 3}}
   }},
  {"data": {"name": "c3"},
   "mark": {"type": "line", "color": "#ff0000", "strokeWidth": 1, "clip": true, "interpolate": "monotone"},
   "encoding": {
    "x": {"field": "t", "type": "quantitative"},
    "y": {"field": "v", "type": "quantitative"}
   }},
  {"data": {"values": [{"label": "110 GPa"}]},
   "mark": {"type": "text", "align": "right", "baseline": "alphabetic", "dx": -3, "font": "Liberation Sans", "fontSize": 29, "color": "#000"},
   "encoding": {
    "text": {"field": "label"},
    "x": {"datum": 500, "type": "quantitative"},
    "y": {"datum": 1440, "type": "quantitative"}
   }}
 ]
}
]
}
